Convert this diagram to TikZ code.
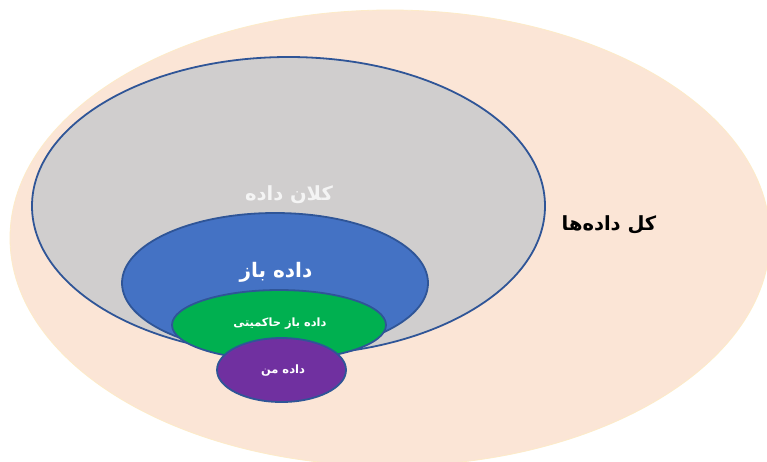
\documentclass[tikz,border=0pt]{standalone}
\usepackage{fontspec}
\newfontfamily\arabicfont[Script=Arabic]{DejaVu Sans}
\TeXXeTstate=1
\definecolor{peach}{HTML}{FBE5D6}
\definecolor{peachedge}{HTML}{FDEBC8}
\definecolor{graybig}{HTML}{D0CECE}
\definecolor{blueopen}{HTML}{4472C4}
\definecolor{greengov}{HTML}{00B050}
\definecolor{purpleme}{HTML}{7030A0}
\definecolor{edgeblue}{HTML}{2F5597}
\definecolor{lighttext}{HTML}{F4F4F4}
\tikzset{
  ring/.style={draw=edgeblue, line width=1.8pt},
  label/.style={inner sep=0pt}
}
\begin{document}
\begin{tikzpicture}[x=1pt,y=-1pt]
\useasboundingbox (0,0) rectangle (767,461);
\clip (0,0) rectangle (767,461);
\fill[white] (0,0) rectangle (767,461);
\filldraw[fill=peach, draw=peachedge, line width=0.8pt] (390,238) ellipse [x radius=380, y radius=228];
\filldraw[ring, fill=graybig] (288.5,206) ellipse [x radius=256.5, y radius=149];
\filldraw[ring, fill=blueopen] (275,283) ellipse [x radius=153, y radius=70];
\filldraw[ring, fill=greengov] (279,325) ellipse [x radius=107, y radius=35];
\filldraw[ring, fill=purpleme] (281.5,370) ellipse [x radius=64.5, y radius=32];
\node[label, text=black, font=\arabicfont\bfseries\fontsize{19.5}{22}\selectfont] (all) at (609,225) {\beginR کل داده‌ها\endR};
\node[label, text=lighttext, font=\arabicfont\bfseries\fontsize{19.5}{22}\selectfont] (big) at (289,195) {\beginR کلان داده\endR};
\node[label, text=white, font=\arabicfont\bfseries\fontsize{20}{22}\selectfont] (open) at (276,272) {\beginR داده باز\endR};
\node[label, text=white, font=\arabicfont\bfseries\fontsize{11.4}{13}\selectfont] (gov) at (280,324) {\beginR داده باز حاکمیتی\endR};
\node[label, text=white, font=\arabicfont\bfseries\fontsize{11.5}{13}\selectfont] (me) at (283,371) {\beginR داده من\endR};
\end{tikzpicture}
\end{document}
